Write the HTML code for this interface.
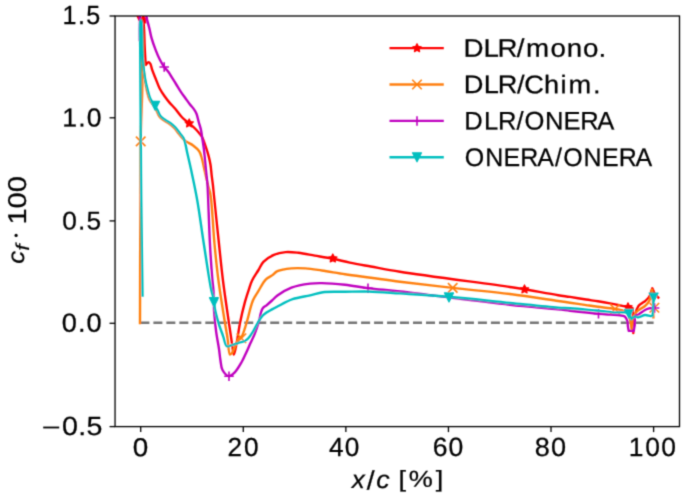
<!DOCTYPE html>
<html><head><meta charset="utf-8"><style>html,body{margin:0;padding:0;background:#fff;overflow:hidden}svg{display:block}</style></head>
<body><svg xmlns="http://www.w3.org/2000/svg" width="685" height="498" viewBox="0 0 685 498"><rect x="0" y="0" width="685" height="498" fill="#fff"/><g filter="url(#bl)"><defs><filter id="bl" x="0" y="0" width="685" height="498" filterUnits="userSpaceOnUse"><feConvolveMatrix order="3" kernelMatrix="1 4 1 4 16 4 1 4 1" divisor="36" edgeMode="duplicate"/></filter><clipPath id="ax"><rect x="115.05" y="16.0" width="564.45" height="410.6"/></clipPath></defs><g clip-path="url(#ax)"><line x1="140.4" y1="322.8" x2="653.60" y2="322.8" stroke="#747474" stroke-width="2.4" stroke-dasharray="9.0 3.982"/><path d="M134.00,8.00C135.83,12.00 137.67,16.00 139.50,20.00C140.77,19.83 142.03,19.67 143.30,19.50C143.57,23.00 143.89,26.19 144.10,30.00C144.35,34.55 144.41,40.51 144.60,45.00C144.75,48.67 144.92,51.67 145.10,55.00C145.28,58.33 145.50,61.67 145.70,65.00C146.67,64.03 147.75,62.10 148.60,62.10C149.27,62.10 149.88,63.04 150.40,63.90C151.21,65.25 151.46,67.75 152.20,69.90C153.09,72.48 154.32,75.37 155.50,78.30C156.80,81.54 158.10,85.39 159.70,88.50C161.16,91.34 162.90,93.88 164.60,96.30C166.18,98.55 167.77,100.57 169.50,102.60C171.24,104.64 173.09,106.29 175.00,108.50C177.29,111.15 179.68,114.94 182.20,117.50C184.44,119.78 186.95,121.35 189.20,123.30C191.38,125.18 193.68,127.16 195.50,129.00C197.03,130.55 198.32,132.01 199.50,133.50C200.56,134.84 201.42,135.82 202.30,137.50C203.54,139.88 204.64,143.58 205.70,146.70C206.78,149.88 207.88,153.27 208.70,156.40C209.45,159.28 210.02,161.80 210.50,164.80C211.05,168.18 211.28,172.21 211.70,175.70C212.09,178.92 212.54,181.84 212.90,185.00C213.27,188.27 213.43,190.39 213.90,195.00C214.95,205.30 217.49,229.82 219.10,245.00C220.45,257.71 221.40,267.96 222.90,280.00C224.50,292.90 226.81,308.23 228.50,320.00C229.84,329.31 231.20,338.63 232.20,345.00C232.82,348.95 233.11,354.57 233.80,354.60C234.55,354.63 235.70,347.63 236.60,343.30C237.79,337.54 238.64,329.79 240.00,323.00C241.39,316.06 243.24,308.19 244.90,302.10C246.21,297.29 247.60,293.17 248.90,289.30C249.99,286.05 250.65,283.41 252.10,280.40C253.74,276.98 256.51,273.25 258.50,270.00C260.25,267.14 261.12,264.28 263.40,261.90C266.03,259.15 270.15,256.54 273.90,254.90C277.56,253.30 281.59,252.46 285.60,252.10C289.74,251.73 293.88,252.29 298.40,252.80C303.54,253.38 309.19,254.63 314.80,255.60C320.71,256.62 327.07,257.61 333.00,258.80C338.73,259.95 343.88,261.38 349.80,262.60C356.40,263.96 363.22,265.12 370.80,266.50C379.73,268.12 387.13,269.66 400.00,271.70C424.91,275.65 490.47,284.09 510.00,287.00C517.10,288.06 518.67,288.33 524.50,289.30C533.40,290.79 549.84,293.87 558.20,295.20C563.13,295.99 565.76,296.25 570.00,296.90C574.95,297.66 581.14,298.72 586.10,299.50C590.36,300.17 594.03,300.65 598.00,301.30C602.00,301.95 606.19,302.69 610.00,303.40C613.49,304.05 616.85,304.75 620.00,305.40C622.82,305.98 625.69,306.58 628.00,307.10C629.78,307.50 631.13,307.83 632.70,308.20C632.90,316.47 633.10,324.73 633.30,333.00C633.97,326.70 634.09,319.02 635.30,314.10C636.12,310.77 637.11,307.89 638.50,306.00C639.50,304.65 640.86,304.03 642.00,303.20C643.02,302.45 643.97,302.04 645.00,301.20C646.29,300.14 647.88,298.95 649.00,297.20C650.45,294.93 651.20,291.27 652.30,288.30C653.20,290.20 653.91,292.39 655.00,294.00C655.96,295.42 657.20,296.40 658.30,297.60" fill="none" stroke="#ff0000" stroke-width="2.4" stroke-linejoin="round" stroke-linecap="square"/><polygon points="143.30,15.10 142.01,17.72 139.12,18.14 141.21,20.18 140.71,23.06 143.30,21.70 145.89,23.06 145.39,20.18 147.48,18.14 144.59,17.72" fill="#ff0000" stroke="#ff0000" stroke-width="1.2" stroke-linejoin="round"/><polygon points="189.20,118.90 187.91,121.52 185.02,121.94 187.11,123.98 186.61,126.86 189.20,125.50 191.79,126.86 191.29,123.98 193.38,121.94 190.49,121.52" fill="#ff0000" stroke="#ff0000" stroke-width="1.2" stroke-linejoin="round"/><polygon points="332.80,254.00 331.51,256.62 328.62,257.04 330.71,259.08 330.21,261.96 332.80,260.60 335.39,261.96 334.89,259.08 336.98,257.04 334.09,256.62" fill="#ff0000" stroke="#ff0000" stroke-width="1.2" stroke-linejoin="round"/><polygon points="524.50,284.90 523.21,287.52 520.32,287.94 522.41,289.98 521.91,292.86 524.50,291.50 527.09,292.86 526.59,289.98 528.68,287.94 525.79,287.52" fill="#ff0000" stroke="#ff0000" stroke-width="1.2" stroke-linejoin="round"/><polygon points="628.00,302.80 626.71,305.42 623.82,305.84 625.91,307.88 625.41,310.76 628.00,309.40 630.59,310.76 630.09,307.88 632.18,305.84 629.29,305.42" fill="#ff0000" stroke="#ff0000" stroke-width="1.2" stroke-linejoin="round"/><path d="M140.00,323.00C140.23,262.47 140.00,184.72 140.70,141.40C141.09,117.25 142.18,101.57 142.30,85.00C142.39,71.95 142.07,60.04 141.80,50.00C141.59,42.41 141.09,34.72 141.00,30.00C140.95,27.42 140.69,24.88 141.00,24.00C141.10,23.71 141.29,23.47 141.40,23.50C141.62,23.56 141.69,24.90 141.80,26.00C142.01,28.07 142.08,31.62 142.20,35.00C142.36,39.36 142.42,45.00 142.60,50.00C142.78,55.00 142.93,60.28 143.30,65.00C143.63,69.23 144.03,72.87 144.60,77.00C145.21,81.45 145.93,86.71 146.90,90.80C147.70,94.18 148.39,97.19 149.70,99.90C150.91,102.41 153.04,104.55 154.30,106.60C155.31,108.25 155.96,109.58 156.80,111.20C157.72,112.97 158.37,115.25 159.60,116.80C160.75,118.25 162.26,119.18 163.80,120.30C165.49,121.53 167.65,122.50 169.40,123.80C171.12,125.07 172.67,126.40 174.20,128.00C175.88,129.76 177.32,131.99 179.00,134.00C180.77,136.12 182.37,138.54 184.60,140.40C187.01,142.41 190.59,143.61 193.10,145.50C195.40,147.24 197.78,149.12 199.20,151.20C200.43,153.00 200.77,154.65 201.50,157.00C202.57,160.44 203.46,165.51 204.50,170.00C205.62,174.82 206.91,180.51 208.00,185.00C208.89,188.67 209.73,190.35 210.50,195.00C212.19,205.26 213.15,229.82 214.60,245.00C215.81,257.71 216.83,267.96 218.40,280.00C220.08,292.91 222.79,309.30 224.50,320.00C225.65,327.19 226.57,332.12 227.50,338.00C228.39,343.64 228.51,354.07 230.00,354.60C230.64,354.83 231.58,353.49 232.30,352.50C233.38,351.02 234.18,348.32 235.20,346.10C236.31,343.67 237.34,340.12 238.70,338.50C239.58,337.45 240.69,337.68 241.60,336.50C243.45,334.11 244.85,328.10 246.50,323.00C248.61,316.49 250.43,306.31 252.90,300.50C254.61,296.50 256.48,294.21 258.50,290.90C260.72,287.27 263.08,282.28 265.70,279.60C267.67,277.59 270.01,276.84 272.00,275.40C273.90,274.03 275.01,272.29 277.40,271.20C280.85,269.62 286.71,268.86 291.40,268.40C296.04,267.94 300.56,268.09 305.40,268.40C310.66,268.74 315.86,269.65 321.80,270.50C328.89,271.52 337.14,273.03 345.10,274.20C353.45,275.43 361.96,276.49 370.80,277.70C380.22,278.99 388.83,280.28 400.00,281.70C414.98,283.61 434.76,285.89 452.70,287.90C471.39,289.99 491.75,291.70 510.00,294.00C526.78,296.11 547.56,299.46 558.20,301.00C563.46,301.76 565.76,302.08 570.00,302.70C574.95,303.43 581.14,304.38 586.10,305.10C590.36,305.72 594.02,306.28 598.00,306.80C601.99,307.32 606.19,307.67 610.00,308.20C613.49,308.68 617.43,309.21 620.00,309.80C621.65,310.18 622.67,310.38 624.00,311.00C625.51,311.71 627.44,312.51 628.50,314.00C629.75,315.76 629.90,318.82 630.40,321.30C630.91,323.82 631.13,326.43 631.50,329.00C631.93,325.67 631.90,321.91 632.80,319.00C633.56,316.53 634.74,314.20 636.10,312.50C637.25,311.07 638.67,310.25 640.10,309.20C641.62,308.08 643.53,307.28 645.00,306.00C646.50,304.69 647.96,303.30 649.00,301.40C650.25,299.12 651.05,295.11 651.50,293.00C651.77,291.76 651.77,291.00 651.90,290.00C652.33,295.50 652.96,301.56 653.20,306.50C653.39,310.51 653.33,313.77 653.40,317.40" fill="none" stroke="#ff7f0e" stroke-width="2.4" stroke-linejoin="round" stroke-linecap="square"/><path d="M135.95,136.65L145.45,146.15M135.95,146.15L145.45,136.65" stroke="#ff7f0e" stroke-width="1.6" fill="none"/><path d="M236.65,333.55L246.15,343.05M236.65,343.05L246.15,333.55" stroke="#ff7f0e" stroke-width="1.6" fill="none"/><path d="M447.95,283.15L457.45,292.65M447.95,292.65L457.45,283.15" stroke="#ff7f0e" stroke-width="1.6" fill="none"/><path d="M610.25,304.25L619.75,313.75M610.25,313.75L619.75,304.25" stroke="#ff7f0e" stroke-width="1.6" fill="none"/><path d="M649.65,303.05L659.15,312.55M649.65,312.55L659.15,303.05" stroke="#ff7f0e" stroke-width="1.6" fill="none"/><path d="M139.80,40.00C139.83,28.33 139.87,16.67 139.90,5.00C141.77,6.00 143.63,7.00 145.50,8.00C145.83,10.97 145.93,13.76 146.50,16.90C147.15,20.53 148.53,24.83 149.40,28.50C150.18,31.79 150.56,34.59 151.50,37.90C152.58,41.73 154.22,46.29 155.70,50.10C157.04,53.55 158.39,56.85 159.90,59.80C161.25,62.43 162.67,64.88 164.20,67.00C165.56,68.88 167.23,70.28 168.50,72.00C169.71,73.65 170.54,75.24 171.70,77.10C173.10,79.34 174.78,82.06 176.30,84.50C177.78,86.89 179.18,89.32 180.70,91.60C182.18,93.81 183.77,95.89 185.30,98.00C186.81,100.08 188.34,102.33 189.80,104.20C191.06,105.82 192.40,107.05 193.50,108.60C194.60,110.15 195.58,111.56 196.40,113.50C197.44,115.95 198.01,119.47 198.80,122.30C199.54,124.95 200.44,127.47 201.00,130.00C201.53,132.40 201.69,134.42 202.10,137.10C202.63,140.58 203.40,145.09 203.90,149.10C204.40,153.12 204.70,157.17 205.10,161.20C205.50,165.23 205.90,169.30 206.30,173.30C206.70,177.23 207.21,181.25 207.50,185.00C207.76,188.46 207.79,190.39 208.00,195.00C208.46,205.30 209.18,229.82 210.00,245.00C210.69,257.71 211.72,271.88 212.40,280.00C212.77,284.35 213.14,286.05 213.40,290.00C213.78,295.71 213.64,304.00 214.10,311.00C214.57,318.03 215.32,325.47 216.20,332.10C216.99,338.06 218.26,343.96 219.00,349.00C219.59,353.05 219.80,356.43 220.40,360.00C220.98,363.42 220.97,367.25 222.50,370.00C223.94,372.58 226.82,376.01 229.00,376.20C230.92,376.36 232.97,374.13 234.80,372.30C237.18,369.92 239.45,365.89 241.40,362.50C243.34,359.13 244.93,355.38 246.50,352.00C247.94,348.90 249.16,345.97 250.50,343.00C251.82,340.07 253.23,337.42 254.50,334.30C255.92,330.81 257.23,327.02 258.50,323.00C259.92,318.51 260.58,311.55 262.50,308.60C263.63,306.86 265.07,306.51 266.50,305.30C268.20,303.86 270.19,302.13 272.00,300.50C273.82,298.86 275.05,297.21 277.40,295.50C280.87,292.97 286.23,289.56 291.40,287.60C297.04,285.46 304.57,284.30 310.10,283.60C314.43,283.05 317.24,283.03 321.80,283.10C328.24,283.20 337.38,283.95 345.10,284.80C352.78,285.65 359.72,287.16 368.00,288.20C377.76,289.43 386.15,289.95 400.00,291.50C425.70,294.38 480.77,301.67 510.00,304.80C529.32,306.87 547.57,308.17 558.20,309.30C563.47,309.86 565.21,310.16 570.00,310.70C577.44,311.53 591.12,313.02 598.50,313.70C603.18,314.13 606.30,314.33 610.00,314.60C613.45,314.86 617.29,314.87 620.00,315.30C621.91,315.60 623.59,315.61 624.80,316.50C625.97,317.37 626.66,318.95 627.20,320.50C627.83,322.33 627.70,325.02 628.00,326.90C628.24,328.39 628.53,329.57 628.80,330.90C630.43,330.90 632.07,330.90 633.70,330.90C634.10,328.50 634.63,326.17 634.90,323.70C635.18,321.11 634.26,317.12 635.30,315.70C635.98,314.77 637.29,315.13 638.50,314.50C640.34,313.54 643.03,311.05 645.00,310.00C646.47,309.22 647.61,308.77 649.10,308.40C650.77,307.99 652.77,308.00 654.60,307.80" fill="none" stroke="#bf00bf" stroke-width="2.4" stroke-linejoin="round" stroke-linecap="square"/><path d="M159.45,67.00H168.95M164.20,62.25V71.75" stroke="#bf00bf" stroke-width="1.6" fill="none"/><path d="M224.25,376.20H233.75M229.00,371.45V380.95" stroke="#bf00bf" stroke-width="1.6" fill="none"/><path d="M363.25,288.20H372.75M368.00,283.45V292.95" stroke="#bf00bf" stroke-width="1.6" fill="none"/><path d="M593.75,313.70H603.25M598.50,308.95V318.45" stroke="#bf00bf" stroke-width="1.6" fill="none"/><path d="M649.85,308.00H659.35M654.60,303.25V312.75" stroke="#bf00bf" stroke-width="1.6" fill="none"/><path d="M142.50,295.60C142.07,263.07 141.52,229.87 141.20,198.00C140.89,167.39 140.78,134.72 140.60,108.00C140.45,86.55 140.32,64.94 140.20,50.00C140.13,40.59 139.88,32.03 140.00,27.00C140.06,24.54 139.97,22.68 140.30,21.50C140.47,20.89 140.79,20.18 141.00,20.20C141.23,20.22 141.44,21.17 141.60,22.00C141.93,23.70 141.97,26.73 142.10,30.00C142.30,35.16 142.17,43.81 142.40,50.00C142.60,55.36 142.82,60.01 143.30,65.00C143.78,70.01 144.47,75.52 145.30,80.00C145.99,83.69 146.81,86.76 147.70,90.00C148.55,93.12 149.19,96.39 150.50,99.10C151.71,101.61 153.84,103.75 155.10,105.80C156.11,107.45 156.76,108.78 157.60,110.40C158.52,112.17 159.17,114.45 160.40,116.00C161.55,117.45 163.06,118.38 164.60,119.50C166.29,120.73 168.45,121.70 170.20,123.00C171.92,124.27 173.47,125.60 175.00,127.20C176.68,128.96 178.28,131.18 179.80,133.20C181.28,135.18 182.87,136.69 184.00,139.20C185.53,142.60 186.01,147.51 187.10,152.20C188.39,157.73 189.75,163.51 191.20,170.30C193.06,178.97 195.27,189.05 197.20,200.00C199.57,213.42 201.65,230.01 204.00,245.00C206.35,260.01 209.22,280.26 211.30,290.00C212.32,294.75 213.52,297.25 214.10,300.50C214.59,303.24 214.31,305.27 214.80,308.20C215.48,312.22 216.91,317.64 218.30,322.30C219.70,327.01 221.68,332.05 223.20,336.30C224.48,339.86 224.99,345.05 226.80,346.10C227.95,346.77 229.47,345.78 231.00,345.40C232.90,344.93 235.40,343.91 237.30,343.30C238.87,342.80 240.25,342.40 241.60,342.00C242.80,341.64 243.94,341.55 245.00,341.00C246.12,340.41 247.03,339.63 248.10,338.50C249.63,336.88 251.37,334.24 252.90,331.80C254.59,329.11 256.13,325.68 257.70,323.00C259.06,320.68 260.14,318.38 261.70,316.60C263.12,314.98 264.79,313.80 266.50,312.60C268.22,311.39 270.20,310.39 272.00,309.40C273.70,308.47 274.86,307.88 277.00,306.80C280.75,304.91 287.13,301.11 292.60,299.20C298.16,297.26 304.73,296.55 310.10,295.30C314.70,294.23 318.01,292.83 322.90,292.20C329.25,291.38 337.60,291.92 345.10,291.80C352.80,291.68 360.13,291.30 368.50,291.50C378.23,291.73 388.35,292.64 400.00,293.40C414.54,294.34 431.79,295.33 449.00,296.80C468.23,298.44 490.86,301.09 510.00,303.00C527.01,304.69 547.56,306.91 558.20,307.70C563.46,308.09 565.38,307.98 570.00,308.30C576.60,308.76 586.81,309.75 594.00,310.40C599.87,310.93 605.95,311.54 610.00,311.90C612.48,312.12 613.85,312.32 616.00,312.40C618.47,312.49 621.67,312.03 624.00,312.30C625.85,312.51 627.71,312.47 628.90,313.50C630.22,314.65 630.43,317.37 631.20,319.30C632.30,318.37 633.26,316.82 634.50,316.50C635.70,316.19 637.02,317.41 638.50,317.30C640.42,317.16 642.89,315.15 645.00,315.00C646.92,314.86 649.20,316.00 650.60,316.10C651.43,316.16 651.93,316.03 652.60,316.00C652.93,309.87 653.27,303.73 653.60,297.60" fill="none" stroke="#00bfbf" stroke-width="2.4" stroke-linejoin="round" stroke-linecap="square"/><polygon points="155.10,110.30 150.60,101.30 159.60,101.30" fill="#00bfbf" stroke="#00bfbf" stroke-width="1.2" stroke-linejoin="round"/><polygon points="214.00,306.70 209.50,297.70 218.50,297.70" fill="#00bfbf" stroke="#00bfbf" stroke-width="1.2" stroke-linejoin="round"/><polygon points="449.00,301.90 444.50,292.90 453.50,292.90" fill="#00bfbf" stroke="#00bfbf" stroke-width="1.2" stroke-linejoin="round"/><polygon points="628.90,318.30 624.40,309.30 633.40,309.30" fill="#00bfbf" stroke="#00bfbf" stroke-width="1.2" stroke-linejoin="round"/><polygon points="653.60,302.10 649.10,293.10 658.10,293.10" fill="#00bfbf" stroke="#00bfbf" stroke-width="1.2" stroke-linejoin="round"/></g><rect x="115.05" y="16.0" width="564.45" height="410.6" fill="none" stroke="#000" stroke-width="1.3"/><line x1="109.55" y1="16.00" x2="115.05" y2="16.00" stroke="#000" stroke-width="1.3"/><line x1="109.55" y1="117.80" x2="115.05" y2="117.80" stroke="#000" stroke-width="1.3"/><line x1="109.55" y1="220.90" x2="115.05" y2="220.90" stroke="#000" stroke-width="1.3"/><line x1="109.55" y1="323.30" x2="115.05" y2="323.30" stroke="#000" stroke-width="1.3"/><line x1="109.55" y1="426.60" x2="115.05" y2="426.60" stroke="#000" stroke-width="1.3"/><line x1="140.70" y1="426.60" x2="140.70" y2="432.10" stroke="#000" stroke-width="1.3"/><line x1="243.28" y1="426.60" x2="243.28" y2="432.10" stroke="#000" stroke-width="1.3"/><line x1="345.86" y1="426.60" x2="345.86" y2="432.10" stroke="#000" stroke-width="1.3"/><line x1="448.44" y1="426.60" x2="448.44" y2="432.10" stroke="#000" stroke-width="1.3"/><line x1="551.02" y1="426.60" x2="551.02" y2="432.10" stroke="#000" stroke-width="1.3"/><line x1="653.60" y1="426.60" x2="653.60" y2="432.10" stroke="#000" stroke-width="1.3"/><circle cx="16.1" cy="235.4" r="1.6" fill="#000"/><line x1="390.7" y1="48.1" x2="442.6" y2="48.1" stroke="#ff0000" stroke-width="2.4" stroke-linecap="square"/><polygon points="417.00,43.70 415.71,46.32 412.82,46.74 414.91,48.78 414.41,51.66 417.00,50.30 419.59,51.66 419.09,48.78 421.18,46.74 418.29,46.32" fill="#ff0000" stroke="#ff0000" stroke-width="1.2" stroke-linejoin="round"/><line x1="390.7" y1="84.5" x2="442.6" y2="84.5" stroke="#ff7f0e" stroke-width="2.4" stroke-linecap="square"/><path d="M412.25,79.75L421.75,89.25M412.25,89.25L421.75,79.75" stroke="#ff7f0e" stroke-width="1.6" fill="none"/><line x1="390.7" y1="120.9" x2="442.6" y2="120.9" stroke="#bf00bf" stroke-width="2.4" stroke-linecap="square"/><path d="M412.25,120.90H421.75M417.00,116.15V125.65" stroke="#bf00bf" stroke-width="1.6" fill="none"/><line x1="390.7" y1="157.3" x2="442.6" y2="157.3" stroke="#00bfbf" stroke-width="2.4" stroke-linecap="square"/><polygon points="417.00,161.80 412.50,152.80 421.50,152.80" fill="#00bfbf" stroke="#00bfbf" stroke-width="1.2" stroke-linejoin="round"/><g font-family="Liberation Sans, sans-serif" fill="#000" stroke="#000" stroke-width="0.25" stroke-linejoin="round" text-rendering="geometricPrecision"><g id="y15" class="tx" transform="matrix(0.9811 0.0005 0 1.0236 0.000 -1.729)"><text x="63.63 79.42 87.88" y="25" font-size="25.60">1.5</text></g><g id="y10" class="tx" transform="matrix(1.0393 0.0005 0 1.0168 0.000 -2.608)"><text x="59.81 75.27 83.50" y="127" font-size="25.60">1.0</text></g><g id="y05" class="tx" transform="matrix(1.0274 0.0005 0 0.9994 0.000 -0.492)"><text x="60.61 76.03 84.23" y="230" font-size="25.60">0.5</text></g><g id="y00" class="tx" transform="matrix(1.0616 0.0005 0 1.0210 0.000 -7.201)"><text x="58.28 73.40 81.40" y="332" font-size="25.60">0.0</text></g><rect x="43.2" y="426.6" width="16.0" height="1.8" fill="#000" stroke="none"/><g id="ym05" class="tx" transform="matrix(1.1193 0.0005 0 1.0262 0.000 -12.448)"><text x="55.43 69.97 77.31" y="436" font-size="25.60">0.5</text></g><g id="x0" class="tx" transform="matrix(1.0868 0.0005 0 1.0194 0.000 -9.750)"><text x="122.25" y="457" font-size="25.60">0</text></g><g id="x20" class="tx" transform="matrix(1.0249 0.0005 0 1.0200 0.000 -10.234)"><text x="222.10 238.15" y="457" font-size="25.60">20</text></g><g id="x40" class="tx" transform="matrix(1.0248 0.0005 0 1.0275 0.000 -13.629)"><text x="320.97 336.43" y="457" font-size="25.60">40</text></g><g id="x60" class="tx" transform="matrix(1.0395 0.0005 0 1.0314 0.000 -15.515)"><text x="416.35 431.54" y="457" font-size="25.60">60</text></g><g id="x80" class="tx" transform="matrix(1.0584 0.0005 0 1.0268 0.000 -13.429)"><text x="505.28 520.65" y="457" font-size="25.60">80</text></g><g id="x100" class="tx" transform="matrix(1.0312 0.0005 0 1.0261 0.000 -13.150)"><text x="609.82 625.62 641.29" y="457" font-size="25.60">100</text></g><g id="xl_x" class="tx" transform="matrix(1.0154 0.0005 0 0.9839 0.000 7.680)"><text x="346.44" y="488" font-size="25.60" font-style="italic">x</text></g><g id="xl_s" class="tx" transform="matrix(1.1107 0.0005 0 1.0412 0.000 -18.707)"><text x="330.19" y="488" font-size="25.60">/</text></g><g id="xl_c" class="tx" transform="matrix(1.0450 0.0005 0 0.9683 0.000 15.385)"><text x="359.99" y="488" font-size="25.60" font-style="italic">c</text></g><g id="xl_b" class="tx" transform="matrix(1.0576 0.0005 0 0.8974 0.000 48.565)"><text x="376.84 386.60 412.00" y="488" font-size="25.60">[%]</text></g><g id="yl_c" class="tx" transform="matrix(0.9081 0.0005 0 1.0082 2.310 -1.296)"><text transform="translate(24,263) rotate(-90)" font-size="25.60" font-style="italic">c</text></g><g id="yl_f" class="tx" transform="matrix(0.7316 0.0005 0 0.8946 8.043 26.979)"><text transform="translate(28,250) rotate(-90)" font-size="25.60" font-style="italic">f</text></g><g id="yl_100" class="tx" transform="matrix(1.0079 0.0005 0 1.1325 0.413 -26.821)"><text transform="translate(25,222) rotate(-90)" font-size="25.60">100</text></g><g id="l1" class="tx" transform="matrix(1.0902 0.0005 0 1.0000 0.000 0.000)"><text x="425.18 443.60 456.32 473.92 482.58 504.98 519.90 534.73 548.93" y="56.5" font-size="25.44">DLR/mono.</text></g><g id="l2" class="tx" transform="matrix(1.0706 0.0005 0 1.0000 0.000 0.000)"><text x="433.16 451.93 464.97 482.81 489.65 508.16 523.52 531.07 553.81" y="92.9" font-size="25.44">DLR/Chim.</text></g><g id="l3" class="tx" transform="matrix(1.0048 0.0005 0 1.0000 0.000 0.000)"><text x="462.08 481.71 495.53 513.97 522.04 542.42 560.77 577.58 594.48" y="129.3" font-size="25.44">DLR/ONERA</text></g><g id="l4" class="tx" transform="matrix(0.9819 0.0005 0 1.0000 0.000 0.000)"><text x="473.45 494.17 512.82 529.92 547.08 565.35 573.66 594.37 613.02 630.12 647.29" y="165.7" font-size="25.44">ONERA/ONERA</text></g></g></g></svg></body></html>
